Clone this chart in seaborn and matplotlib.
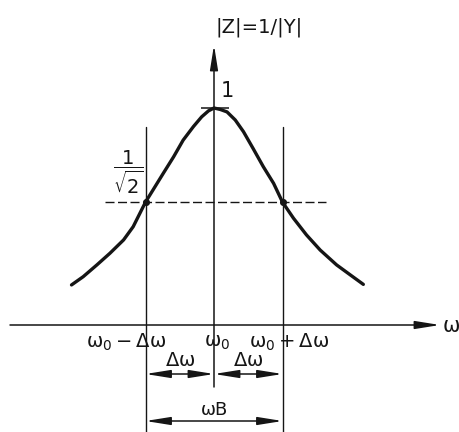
import numpy as np
import pandas as pd
import matplotlib
matplotlib.use("Agg")
import matplotlib.pyplot as plt
import seaborn as sns

# Resonance curve |Z|(ω): frequency offset from ω0 in units of Δω, magnitude relative to the peak
offset = [-2.08, -1.91, -1.71, -1.52, -1.32, -1.18, -1.00, -0.89, -0.74,
          -0.59, -0.45, -0.30, -0.18, -0.08, 0.00, 0.09, 0.19, 0.31, 0.43,
          0.57, 0.72, 0.87, 1.00, 1.16, 1.35, 1.55, 1.79, 1.99, 2.18]
magnitude = [0.357, 0.400, 0.457, 0.509, 0.565, 0.617, 0.707, 0.749, 0.804,
             0.856, 0.907, 0.947, 0.975, 0.992, 1.000, 0.996, 0.989, 0.966, 0.932,
             0.882, 0.825, 0.771, 0.707, 0.649, 0.585, 0.523, 0.457, 0.409, 0.360]

peak_level = 1.0
half_power_level = 1 / np.sqrt(2)
band_edges = [-1.0, 1.0]            # ω0 − Δω and ω0 + Δω
tick_positions = [-1.0, 0.0, 1.0]

peak_label = "1"
half_power_label = r"$\dfrac{1}{\sqrt{2}}$"
tick_labels = [r"$\mathrm{\omega_0 - \Delta\omega}$", r"$\mathrm{\omega_0}$",
               r"$\mathrm{\omega_0 + \Delta\omega}$"]
delta_label = r"$\mathrm{\Delta\omega}$"
bandwidth_label = "ωB"
y_axis_label = "|Z|=1/|Y|"
x_axis_label = "ω"

sns.set_theme(style="white")
plt.rcParams["font.family"] = ["DejaVu Sans"]
plt.rcParams["mathtext.fontset"] = "dejavusans"

W, H = 460, 432
fig = plt.figure(figsize=(W / 100, H / 100), dpi=100)
ax = fig.add_axes([0, 0, 1, 1])

INK = "#151515"

# schematic (compressed) magnitude axis: power scale so the 1/√2 level sits lower
P = 1.64
def fwd(y):
    return np.sign(y) * np.abs(y) ** P
def inv(t):
    return np.sign(t) * np.abs(t) ** (1 / P)

# geometry in pixels: ω0 at x=214, Δω = 68.5 px; ω axis at y=325, peak 217 px above it
X0, DX, Y0, HY = 214, 68.5, 325, 217

df = pd.DataFrame({"offset": offset, "magnitude": magnitude})
sns.lineplot(data=df, x="offset", y="magnitude", color=INK, linewidth=2.4,
             solid_capstyle="round", solid_joinstyle="round", ax=ax, zorder=4)

ax.set_yscale("function", functions=(fwd, inv))
ax.set_xlim(-X0 / DX, (W - X0) / DX)
ax.set_ylim(inv(-(H - Y0) / HY), inv(Y0 / HY))
ax.set_axis_off()

def fy(py):
    return 1 - py / H

xt = ax.get_xaxis_transform()
head = "head_length=1.0,head_width=0.16"
arrow_kw = dict(color=INK, lw=1.1, shrinkA=0, shrinkB=0, mutation_scale=15)

# ω axis
ax.annotate("", xy=((440 - X0) / DX, 0), xytext=((10 - X0) / DX, 0),
            arrowprops=dict(arrowstyle="-|>," + head, **arrow_kw))
ax.annotate(x_axis_label, xy=((440 - X0) / DX, 0), xytext=(3, -1),
            textcoords="offset pixels", ha="left", va="center",
            fontsize=15, color=INK)

# |Z| axis, continued below the ω axis as the dimension centre mark
ax.annotate("", xy=(0, fy(45)), xytext=(0, fy(387)), xycoords=xt, textcoords=xt,
            arrowprops=dict(arrowstyle="-|>," + head, **arrow_kw))
ax.text(0.66, fy(27), y_axis_label, transform=xt, ha="center", va="center",
        fontsize=14, color=INK)

# band edge lines
for xe in band_edges:
    ax.axvline(xe, ymin=0, ymax=fy(127), color=INK, lw=1.0)

# peak tick and label
ax.hlines(peak_level, -0.19, 0.22, color=INK, lw=1.1)
ax.annotate(peak_label, xy=(0, peak_level), xytext=(13, 17),
            textcoords="offset pixels", ha="center", va="center",
            fontsize=15, color=INK)

# half-power level
ax.hlines(half_power_level, (105 - X0) / DX, (326 - X0) / DX, color=INK,
          lw=1.0, linestyles=(0, (6.5, 2.5)))
ax.scatter(band_edges, [half_power_level] * 2, s=26, color=INK, zorder=5,
           linewidths=0)
ax.annotate(half_power_label, xy=(band_edges[0], half_power_level),
            xytext=(-17.5, 30), textcoords="offset pixels",
            ha="center", va="center", fontsize=14, color=INK)

# frequency labels under the ω axis
label_shift = [-19, 3.5, 7]
for xp, lab, sh in zip(tick_positions, tick_labels, label_shift):
    ax.annotate(lab, xy=(xp, 0), xytext=(sh, -17), textcoords="offset pixels",
                ha="center", va="center", fontsize=14, color=INK)

# Δω dimension arrows
for a, b in [(band_edges[0], 0.0), (0.0, band_edges[1])]:
    ax.annotate("", xy=(b, fy(374)), xytext=(a, fy(374)), xycoords=xt, textcoords=xt,
                arrowprops=dict(arrowstyle="<|-|>," + head, **arrow_kw))
    ax.text((a + b) / 2, fy(361), delta_label, transform=xt, ha="center",
            va="center", fontsize=14, color=INK)

# bandwidth ωB
ax.annotate("", xy=(band_edges[1], fy(421)), xytext=(band_edges[0], fy(421)),
            xycoords=xt, textcoords=xt,
            arrowprops=dict(arrowstyle="<|-|>," + head, **arrow_kw))
ax.text(0.0, fy(410), bandwidth_label, transform=xt, ha="center", va="center",
        fontsize=13, color=INK)

fig.savefig("out.png", dpi=100)
